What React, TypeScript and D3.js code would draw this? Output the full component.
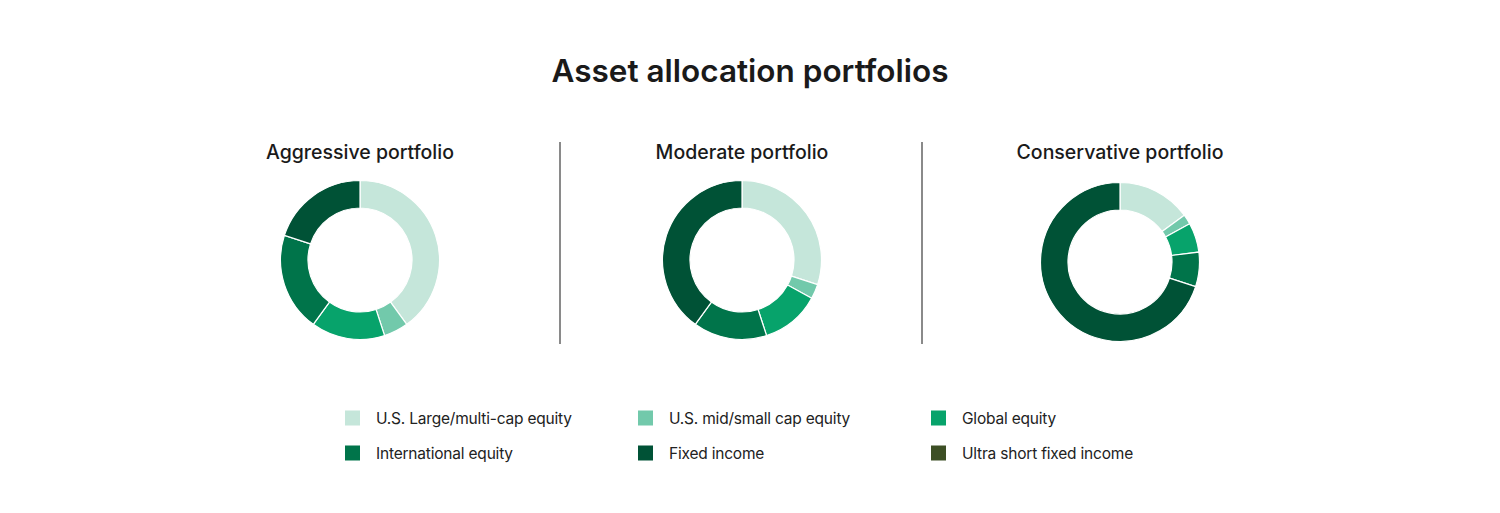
import * as d3 from "d3"

const categories = [
  "U.S. Large/multi-cap equity",
  "U.S. mid/small cap equity",
  "Global equity",
  "International equity",
  "Fixed income",
  "Ultra short fixed income",
]
const colors = ["#c5e6da", "#72c9ab", "#07a36b", "#00744a", "#005236", "#3d4f25"]

const portfolioNames = ["Aggressive portfolio", "Moderate portfolio", "Conservative portfolio"]
const aggressive = [40, 5, 15, 20, 20, 0]
const moderate = [30, 3, 12, 15, 40, 0]
const conservative = [15, 2, 6, 7, 70, 0]
const portfolios = [aggressive, moderate, conservative]

const W = 1500
const H = 513
const FONT = "Inter, 'Noto Sans', sans-serif"

const Donut = ({ values, cx, cy }: { values: number[]; cx: number; cy: number }) => {
  const pie = d3
    .pie<number>()
    .sort(null)
    .value((d) => d)
  const arc: any = d3.arc().innerRadius(52).outerRadius(79.5)
  const arcs = pie(values)
  return (
    <g transform={`translate(${cx},${cy})`}>
      {arcs.map((a, i) =>
        a.value > 0 ? (
          <path key={i} d={arc(a)} fill={colors[i]} stroke="#fff" strokeWidth={1.2} />
        ) : null
      )}
    </g>
  )
}

const App = () => {
  const x = d3.scalePoint<number>().domain([0, 1, 2]).range([360, 1120])
  const donutX = [360, 742, 1120]
  const centersY = [260, 260, 262]
  const legendX = d3.scalePoint<number>().domain([0, 1, 2]).range([345, 931])
  const legendY = [418, 453]
  return (
    <svg
      width={W}
      height={H}
      style={{ position: "absolute", left: 0, top: 0, background: "#fff" }}
      fontFamily={FONT}
    >
      <text x={750} y={82} textAnchor="middle" fontSize={31.5} fontWeight={600} fill="#1a1a1a">
        Asset allocation portfolios
      </text>
      {portfolios.map((vals, i) => (
        <g key={i}>
          <text x={x(i)! + (i === 1 ? 2 : 0)} y={159} textAnchor="middle" fontSize={19.5} fill="#1a1a1a" fontWeight={500}>
            {portfolioNames[i]}
          </text>
          <Donut values={vals} cx={donutX[i]} cy={centersY[i]} />
        </g>
      ))}
      {[560, 922].map((sx) => (
        <line key={sx} x1={sx} x2={sx} y1={142} y2={344} stroke="#8a8a8a" strokeWidth={2} />
      ))}
      {categories.map((c, i) => {
        const col = i % 3
        const row = Math.floor(i / 3)
        const lx = legendX(col)!
        const ly = legendY[row]
        return (
          <g key={c}>
            <rect x={lx} y={ly - 7.5} width={15} height={15} fill={colors[i]} />
            <text x={lx + 31} y={ly + 5.5} fontSize={15.5} fill="#222" letterSpacing={-0.2}>
              {c}
            </text>
          </g>
        )
      })}
    </svg>
  )
}

export default App
